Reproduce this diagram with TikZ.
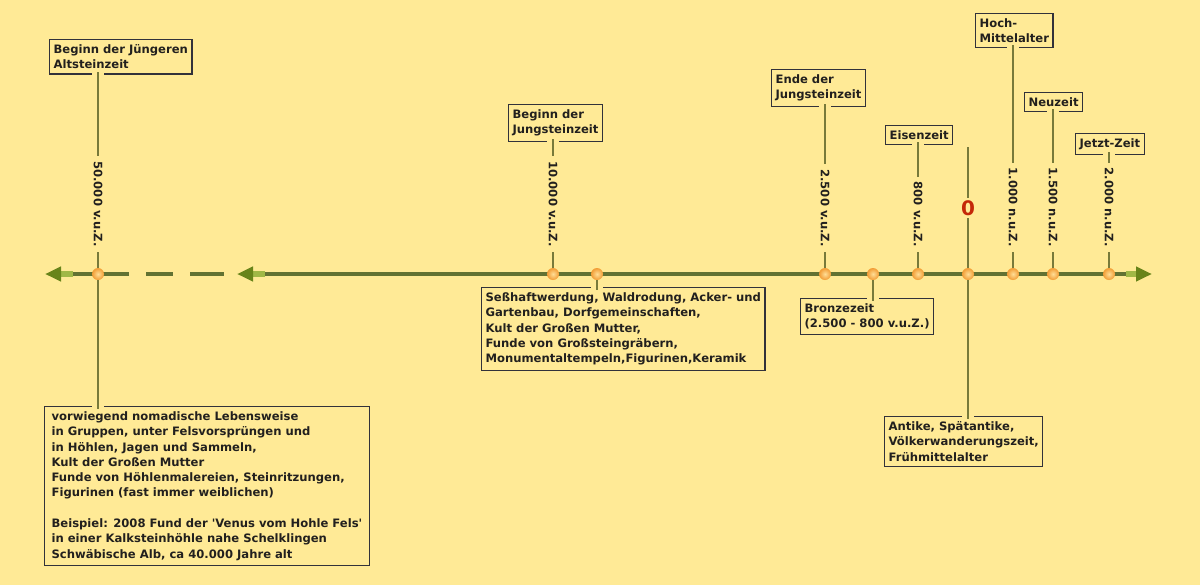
\documentclass[tikz,border=0pt]{standalone}
\usepackage{fontspec}
\setmainfont{DejaVu Sans}
\usetikzlibrary{arrows.meta}
\definecolor{paper}{RGB}{255,234,150}
\definecolor{ink}{RGB}{34,32,30}
\definecolor{frame}{RGB}{50,50,58}
\definecolor{stemcol}{RGB}{120,122,58}
\definecolor{axiscol}{RGB}{98,114,50}
\definecolor{tipgreen}{RGB}{104,132,26}
\definecolor{shaftgreen}{RGB}{160,184,70}
\definecolor{dotlight}{RGB}{255,222,150}
\definecolor{dotorange}{RGB}{242,156,52}
\definecolor{zerored}{RGB}{196,40,8}
\pgfdeclarelayer{front}
\pgfsetlayers{main,front}
\tikzset{
  txt/.style={font=\fontsize{5.8}{7.65}\selectfont\bfseries, text=ink},
  box/.style={txt, draw=frame, line width=0.6pt, fill=paper, anchor=north west,
    align=left, inner xsep=2pt, inner ysep=2.5pt},
  dot/.style={circle, minimum size=6pt, inner sep=0pt, shading=radial,
    inner color=dotlight, outer color=dotorange},
  stem/.style={stemcol, line width=1pt, preaction={draw=paper, line width=6pt}},
  year/.style={txt, rotate=-90, anchor=east, fill=paper, inner xsep=2.5pt, inner ysep=0.6pt},
  axisline/.style={axiscol, line width=1.6pt},
  tipline/.style={shaftgreen, line width=3pt, -{Triangle[length=8pt, width=7pt, color=tipgreen]}}
}
\begin{document}
\begin{tikzpicture}[x=0.5pt, y=-0.5pt]
  % Paper
  \fill[paper] (0,0) rectangle (1200,585);
  \useasboundingbox (0,0) rectangle (1200,585);

  % Boxes above the time line
  \node[box] (altstein) at (49,39) {Beginn der Jüngeren\\Altsteinzeit};
  \node[box] (jungbeg) at (508,104) {Beginn der\\Jungsteinzeit};
  \node[box] (jungend) at (771,69) {Ende der\\Jungsteinzeit};
  \node[box] (eisen) at (885,125) {Eisenzeit};
  \node[box] (hochma) at (975,13) {Hoch-\\Mittelalter};
  \node[box] (neuzeit) at (1024,92) {Neuzeit};
  \node[box] (jetzt) at (1075,133) {Jetzt-Zeit};

  % Boxes below the time line
  \node[box] (sesshaft) at (481,287) {Seßhaftwerdung, Waldrodung, Acker- und\\
    Gartenbau, Dorfgemeinschaften,\\Kult der Großen Mutter,\\
    Funde von Großsteingräbern,\\Monumentaltempeln,Figurinen,Keramik};
  \node[box] (bronze) at (800,298) {Bronzezeit\\(2.500 - 800 v.u.Z.)};
  \node[box] (antike) at (884,416) {Antike, Spätantike,\\Völkerwanderungszeit,\\Frühmittelalter};
  \node[box, inner xsep=3.5pt] (nomaden) at (44,406) {vorwiegend nomadische Lebensweise\\
    in Gruppen, unter Felsvorsprüngen und\\in Höhlen, Jagen und Sammeln,\\
    Kult der Großen Mutter\\Funde von Höhlenmalereien, Steinritzungen,\\
    Figurinen (fast immer weiblichen)\\[7.65pt]
    Beispiel: 2008 Fund der \textquotesingle Venus vom Hohle Fels\textquotesingle\\
    in einer Kalksteinhöhle nahe Schelklingen\\Schwäbische Alb, ca 40.000 Jahre alt};

  % Points on the time line
  \begin{pgfonlayer}{front}
    \node[dot] (p50k) at (98,274) {};
    \node[dot] (p10k) at (553,274) {};
    \node[dot] (psess) at (597,274) {};
    \node[dot] (p2500) at (825,274) {};
    \node[dot] (pbronze) at (873,274) {};
    \node[dot] (p800) at (918,274) {};
    \node[dot] (pzero) at (968,274) {};
    \node[dot] (p1000) at (1013,274) {};
    \node[dot] (p1500) at (1053,274) {};
    \node[dot] (p2000) at (1109,274) {};
  \end{pgfonlayer}
  \coordinate (zerotop) at (968,147);

  % Stems up
  \draw[stem] (p50k.center) -- ([yshift=1.5pt]p50k.center |- altstein.south);
  \draw[stem] (p10k.center) -- ([yshift=1.5pt]p10k.center |- jungbeg.south);
  \draw[stem] (p2500.center) -- ([yshift=1.5pt]p2500.center |- jungend.south);
  \draw[stem] (p800.center) -- ([yshift=1.5pt]p800.center |- eisen.south);
  \draw[stem] (p1000.center) -- ([yshift=1.5pt]p1000.center |- hochma.south);
  \draw[stem] (p1500.center) -- ([yshift=1.5pt]p1500.center |- neuzeit.south);
  \draw[stem] (p2000.center) -- ([yshift=1.5pt]p2000.center |- jetzt.south);
  \draw[stem] (pzero.center) -- (zerotop);

  % Stems down
  \draw[stem] (p50k.center) -- ([yshift=-1.5pt]p50k.center |- nomaden.north);
  \draw[stem] (psess.center) -- ([yshift=-1.5pt]psess.center |- sesshaft.north);
  \draw[stem] (pbronze.center) -- ([yshift=-1.5pt]pbronze.center |- bronze.north);
  \draw[stem] (pzero.center) -- ([yshift=-1.5pt]pzero.center |- antike.north);

  % Year labels
  \node[year] (y50k) at (98,252) {50.000 v.u.Z.};
  \node[year] (y10k) at (553,252) {10.000 v.u.Z.};
  \node[year] (y2500) at (825,252) {2.500 v.u.Z.};
  \node[year] (y800) at (918,252) {800 v.u.Z.};
  \node[year] (y1000) at (1013,252) {1.000 n.u.Z.};
  \node[year] (y1500) at (1053,252) {1.500 n.u.Z.};
  \node[year] (y2000) at (1109,252) {2.000 n.u.Z.};
  \node[fill=paper, inner sep=1pt, text=zerored, font=\fontsize{10}{12}\selectfont\bfseries]
    (yzero) at (968,208) {0};

  % Time line, left part with gaps
  \coordinate (lefttip) at (45,274);
  \coordinate (leftend) at (129,274);
  \coordinate (midtip) at (237,274);
  \coordinate (righttip) at (1152,274);
  \draw[axisline] (leftend) -- ([xshift=11pt]lefttip);
  \draw[axisline] (146,274) -- (173,274);
  \draw[axisline] (190,274) -- (224,274);
  \draw[tipline] ([xshift=14pt]lefttip) -- (lefttip);

  % Time line, main part
  \draw[axisline] ([xshift=-11pt]righttip) -- ([xshift=11pt]midtip);
  \draw[tipline] ([xshift=14pt]midtip) -- (midtip);
  \draw[tipline] ([xshift=-13pt]righttip) -- (righttip);
\end{tikzpicture}
\end{document}
